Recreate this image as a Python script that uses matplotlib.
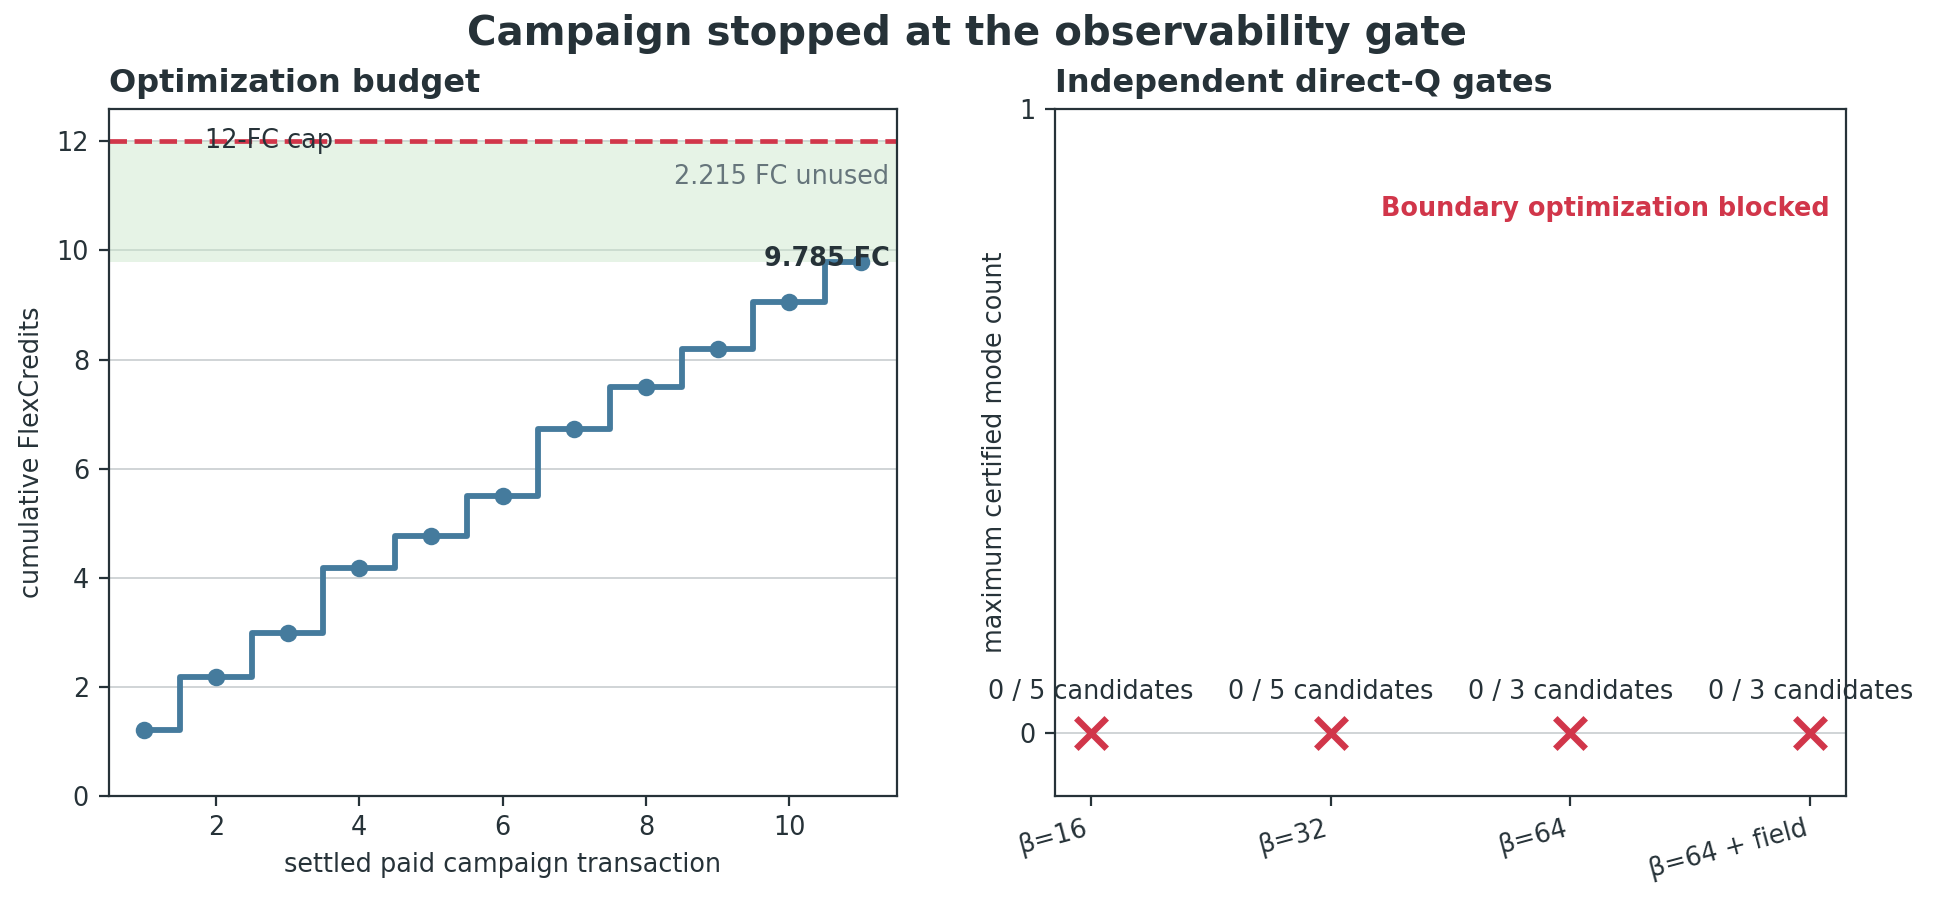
import matplotlib
matplotlib.use("Agg")
import matplotlib.pyplot as plt

tx = [1,2,3,4,5,6,7,8,9,10,11]
cum = [1.2,2.18,2.98,4.17,4.77,5.5,6.72,7.5,8.2,9.05,9.785]
cap = 12
gates = ["β=16","β=32","β=64","β=64 + field"]
certified = [0,0,0,0]
cands = ["0 / 5 candidates","0 / 5 candidates","0 / 3 candidates","0 / 3 candidates"]

fs = 9.2
dark = "#263238"
plt.rcParams.update({"text.color": dark, "axes.labelcolor": dark, "xtick.color": dark,
                     "ytick.color": dark, "axes.edgecolor": dark, "font.size": fs,
                     "axes.linewidth": 0.8})
W, H = 1568, 731
fig = plt.figure(figsize=(9.67, 4.51), dpi=200)
ax1 = fig.add_axes([88/W, 1-645/H, 639/W, 557/H])
ax2 = fig.add_axes([855/W, 1-645/H, 642/W, 557/H])

ax1.axhspan(cum[-1], cap, color="#c8e6c9", alpha=0.45, lw=0)
ax1.axhline(cap, color="#d1364a", ls="--", lw=1.7)
ax1.step(tx, cum, where="mid", color="#457b9d", lw=2.1)
ax1.plot(tx, cum, "o", color="#457b9d", ms=5.3)
ax1.text(1.85, cap, "12-FC cap", va="center", fontsize=fs)
ax1.text(11.4, 11.35, f"{cap-cum[-1]:.3f} FC unused", ha="right", va="center", color="#66757b", fontsize=fs)
ax1.text(11.4, cum[-1]+0.05, f"{cum[-1]:.3f} FC", ha="right", va="center", fontweight="bold", fontsize=fs)
ax1.set_xlim(0.5, 11.5); ax1.set_ylim(0, 12.6)
ax1.set_yticks([0,2,4,6,8,10,12])
ax1.set_xticks([2,4,6,8,10])
ax1.grid(axis="y", color="#d0d4d6", lw=0.7); ax1.set_axisbelow(True)
ax1.set_xlabel("settled paid campaign transaction")
ax1.set_ylabel("cumulative FlexCredits")
ax1.set_title("Optimization budget", loc="left", fontweight="bold", fontsize=11.5)

xs = range(len(gates))
ax2.scatter(xs, certified, marker="x", s=120, color="#d1364a", linewidths=2.3, zorder=3)
for x, c in zip(xs, cands):
    ax2.text(x, 0.045, c, ha="center", va="bottom", fontsize=fs)
ax2.text(3.08, 0.84, "Boundary optimization blocked", ha="right", va="center",
         color="#d1364a", fontweight="bold", fontsize=fs)
ax2.set_xlim(-0.15, 3.15); ax2.set_ylim(-0.1, 1)
ax2.set_yticks([0,1])
ax2.set_xticks(list(xs)); ax2.set_xticklabels(gates, rotation=15, ha="right")
ax2.grid(axis="y", color="#d0d4d6", lw=0.7); ax2.set_axisbelow(True)
ax2.set_ylabel("maximum certified mode count")
ax2.set_title("Independent direct-Q gates", loc="left", fontweight="bold", fontsize=11.5)

fig.suptitle("Campaign stopped at the observability gate", fontweight="bold", fontsize=14.5, y=0.985)
fig.savefig("out.png", dpi=200)
